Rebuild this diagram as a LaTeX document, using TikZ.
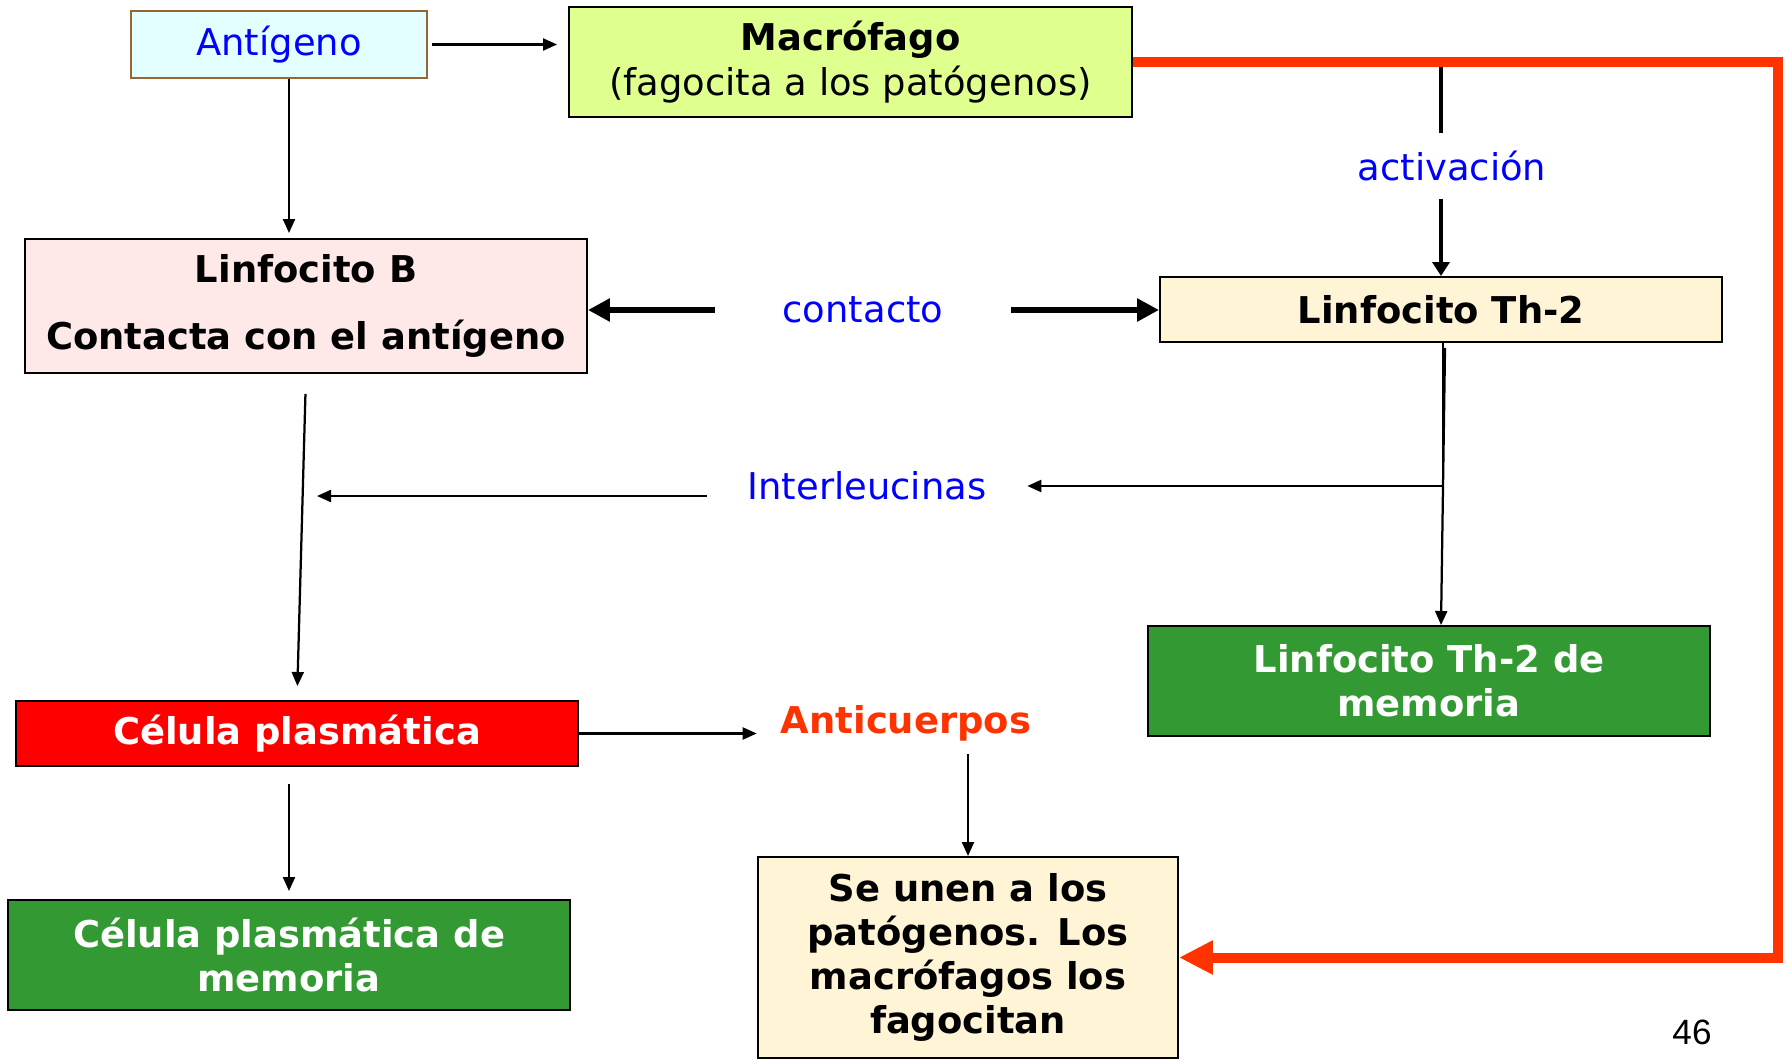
\documentclass[tikz,border=0pt]{standalone}
\usepackage{fontspec}
\setmainfont{DejaVu Sans}
\newfontfamily\numfont{Liberation Sans}
\definecolor{IRBlue}{HTML}{0000FF}
\definecolor{IROrange}{HTML}{FF3300}
\definecolor{IRRed}{HTML}{FF0000}
\definecolor{IRGreen}{HTML}{339933}
\definecolor{IRCyan}{HTML}{E3FFFF}
\definecolor{IRBrown}{HTML}{996633}
\definecolor{IRLime}{HTML}{DFFF8F}
\definecolor{IRPink}{HTML}{FFE8E8}
\definecolor{IRCream}{HTML}{FFF4D6}
\usetikzlibrary{positioning,arrows.meta}
\newcommand{\irfont}{\fontsize{21}{25.2}\selectfont}

\begin{document}
\begin{tikzpicture}[x=0.02cm, y=-0.02cm, font=\irfont,
    box/.style={draw, line width=0.04cm, align=center, inner sep=0pt, font=\irfont},
    boldbox/.style={box, font=\irfont\bfseries},
    memo/.style={boldbox, fill=IRGreen, text=white, minimum width=11.24cm, minimum height=2.2cm},
    word/.style={inner sep=0pt, font=\irfont},
    flow/.style={-{Triangle[length=0.28cm,width=0.24cm]}, line width=0.045cm},
    boldflow/.style={-{Triangle[length=0.44cm,width=0.44cm]}, line width=0.12cm},
    actflow/.style={-{Triangle[length=0.28cm,width=0.34cm]}, line width=0.07cm},
    redflow/.style={-{Triangle[length=0.68cm,width=0.64cm]}, draw=IROrange, line width=0.2cm}]
    \useasboundingbox (0,0) rectangle (1787,1060);
    % boxes
    \node[box, fill=IRCyan, draw=IRBrown, line width=0.03cm, text=IRBlue, minimum width=5.92cm, minimum height=1.34cm] (ant) at (279,44.5) {Antígeno};
    \node[box, fill=IRLime, minimum width=11.26cm, minimum height=2.2cm] (mac) at (850.5,62) {\textbf{Macrófago}\\(fagocita a los patógenos)};
    \node[boldbox, fill=IRPink, minimum width=11.24cm, minimum height=2.68cm] (lb) at (306,306) {Linfocito B\\[13pt]Contacta con el antígeno};
    \node[boldbox, fill=IRCream, minimum width=11.24cm, minimum height=1.3cm] (th2) at (1441,309.5) {Linfocito Th-2};
    \node[memo] (th2mem) at (1429,681) {Linfocito Th-2 de\\memoria};
    \node[boldbox, fill=IRRed, text=white, minimum width=11.24cm, minimum height=1.3cm] (cp) at (297,733.5) {Célula plasmática};
    \node[memo] (cpm) at (289,955) {Célula plasmática de\\memoria};
    \node[boldbox, fill=IRCream, minimum width=8.4cm, minimum height=4.02cm] (seu) at (968,957.5) {Se unen a los\\patógenos. Los\\macrófagos los\\fagocitan};
    % labels
    \node[word, text=IRBlue, minimum width=5.92cm] (cont) at (863,310) {contacto};
    \node[word, text=IRBlue, minimum height=1.32cm] (act) at (1452,166) {activación};
    \node[word, text=IRBlue, minimum width=6.4cm] (inl) at (867,486) {Interleucinas};
    \node[word, text=IROrange, font=\irfont\bfseries, minimum width=5.96cm, minimum height=1.24cm] (anti) at (906,723) {Anticuerpos};
    \node[inner sep=0pt, anchor=north, font=\numfont\fontsize{20}{24}\selectfont] (pg) at (1692,1020) {46};
    \coordinate (rc) at (1778,500);
    \coordinate (il) at (317,496);
    % connectors
    \draw[flow, shorten <=0.08cm, shorten >=0.22cm] (ant.east) -- (ant.east -| mac.west);
    \draw[flow, shorten >=0.1cm] ([xshift=0.2cm]ant.south) -- ([xshift=0.2cm]ant.south |- lb.north);
    \draw[boldflow] (cont.west) -- (cont.west -| lb.east);
    \draw[boldflow] (cont.east) -- (cont.east -| th2.west);
    \draw[line width=0.07cm] (act.north -| th2.north) -- (mac.east -| th2.north);
    \draw[actflow] (act.south -| th2.north) -- (th2.north);
    \draw[flow] ([xshift=0.04cm]th2.south) |- (inl.east);
    \draw[flow] ([xshift=0.08cm,yshift=-0.1cm]th2.south) -- (th2.south |- th2mem.north);
    \draw[flow] (inl.west |- il) -- (il);
    \draw[flow, shorten <=0.4cm, shorten >=0.28cm] (lb.south) -- (cp.north);
    \draw[flow] (cp.east) -- (cp.east -| anti.west);
    \draw[flow] (anti.south -| seu.north) -- (seu.north);
    \draw[flow, shorten <=0.34cm, shorten >=0.16cm] (cp.south -| cpm.north) -- (cpm.north);
    \draw[redflow] (mac.east) -| (rc) |- (seu.east);
\end{tikzpicture}
\end{document}
